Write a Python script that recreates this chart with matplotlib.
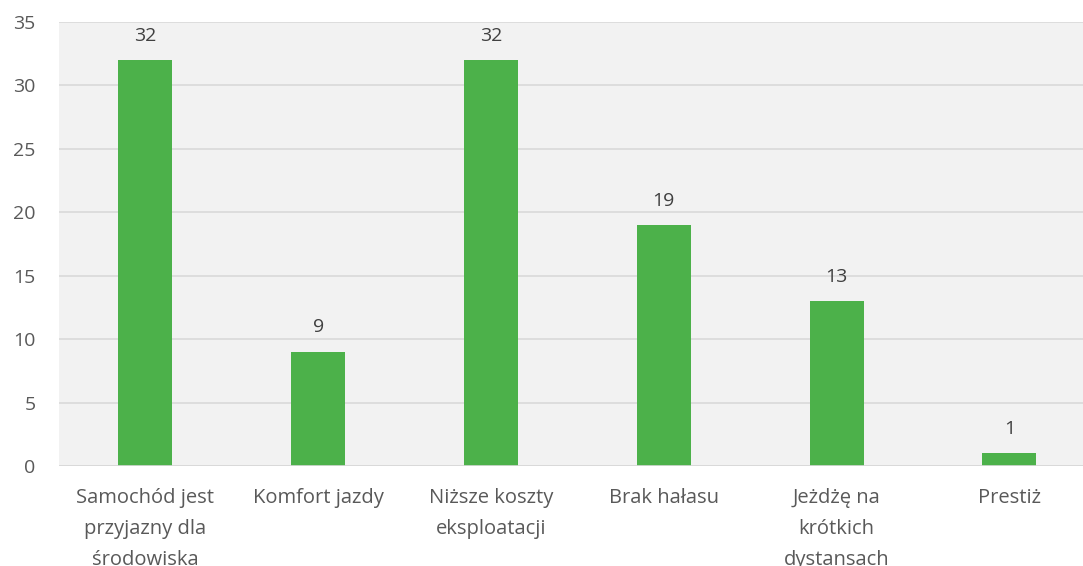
import matplotlib.pyplot as plt
import numpy as np

categories = ['Samochód jest\nprzyjazny dla\nśrodowiska', 'Komfort jazdy',
              'Niższe koszty\neksploatacji', 'Brak hałasu',
              'Jeżdżę na\nkrótkich\ndystansach', 'Prestiż']
values = [32, 9, 32, 19, 13, 1]
yticks = [0, 5, 10, 15, 20, 25, 30, 35]

plt.rcParams['font.family'] = ['Open Sans', 'DejaVu Sans']
txt = '#595959'

fig = plt.figure(figsize=(10.83, 5.66), dpi=100, facecolor='white')
ax = fig.add_axes([59 / 1083, 1 - 466 / 566, 1 - 59 / 1083, (466 - 22) / 566])
ax.set_facecolor('#F2F2F2')

x = np.arange(len(values))
ax.bar(x, values, width=0.3125, color='#4CB14A', zorder=3)
for xi, v in zip(x, values):
    ax.annotate(str(v), (xi, v), xytext=(0, 14), textcoords='offset points',
                ha='center', va='baseline', fontsize=14, color='#404040')

ax.set_xlim(-0.5, -0.5 + 1024 / 172.8)
ax.set_ylim(0, 35)
ax.set_yticks(yticks)
ax.set_xticks(x)
ax.set_xticklabels(categories, fontsize=14.5, color=txt, linespacing=1.72)
ax.tick_params(axis='y', labelsize=14, colors=txt, length=0, pad=17)
ax.tick_params(axis='x', length=0, pad=16)
ax.yaxis.grid(True, color='#D9D9D9', linewidth=1.2, zorder=0)
for s in ax.spines.values():
    s.set_visible(False)
ax.axhline(0, color='#D9D9D9', linewidth=1.2, zorder=4)

fig.savefig('out.png', dpi=100)
